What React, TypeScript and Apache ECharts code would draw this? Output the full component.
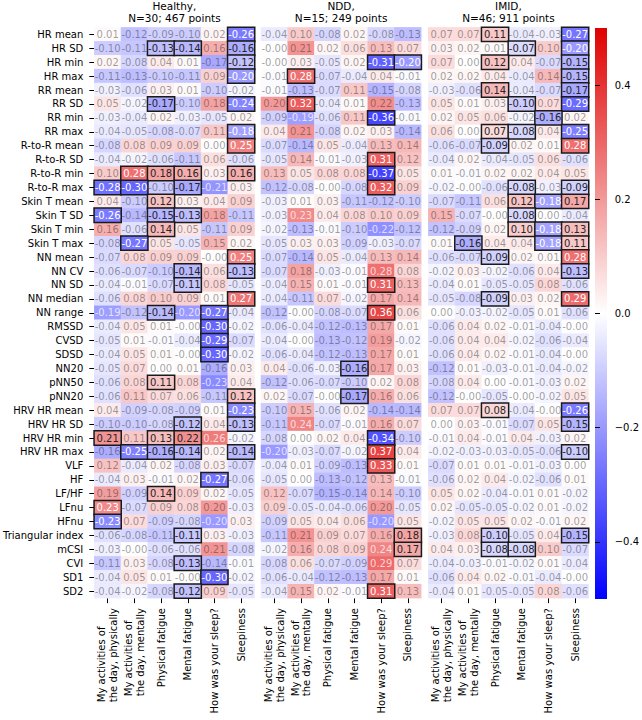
import React, { useEffect, useRef } from "react";
import * as echarts from "echarts";

const FONT = "DejaVu Sans";

const ROWS = [
  "HR mean", "HR SD", "HR min", "HR max", "RR mean", "RR SD", "RR min", "RR max",
  "R-to-R mean", "R-to-R SD", "R-to-R min", "R-to-R max",
  "Skin T mean", "Skin T SD", "Skin T min", "Skin T max",
  "NN mean", "NN CV", "NN SD", "NN median", "NN range",
  "RMSSD", "CVSD", "SDSD", "NN20", "pNN50", "pNN20",
  "HRV HR mean", "HRV HR SD", "HRV HR min", "HRV HR max",
  "VLF", "HF", "LF/HF", "LFnu", "HFnu",
  "Triangular index", "mCSI", "CVI", "SD1", "SD2",
];

const COLS = [
  "My activities of\nthe day, physically",
  "My activities of\nthe day, mentally",
  "Physical fatigue",
  "Mental fatigue",
  "How was your sleep?",
  "Sleepiness",
];

const PANEL_TITLES = ["Healthy,\nN=30; 467 points", "NDD,\nN=15; 249 points", "IMID,\nN=46; 911 points"];

// -0.001 stands for a value printed as "-0.00"
const HEALTHY = [
  [0.01, -0.12, -0.09, -0.10, 0.02, -0.26],
  [-0.10, -0.11, -0.13, -0.14, 0.16, -0.16],
  [0.02, -0.08, 0.04, 0.01, -0.17, -0.12],
  [-0.11, -0.13, -0.10, -0.11, 0.09, -0.20],
  [-0.03, -0.06, 0.03, 0.01, -0.10, -0.02],
  [0.05, -0.02, -0.17, -0.10, 0.18, -0.24],
  [-0.03, -0.04, 0.02, -0.03, -0.05, 0.02],
  [-0.04, -0.05, -0.08, -0.07, 0.11, -0.18],
  [-0.08, 0.08, 0.09, 0.09, 0, 0.25],
  [-0.04, -0.02, -0.06, -0.11, 0.06, -0.06],
  [0.10, 0.28, 0.18, 0.16, 0.03, 0.16],
  [-0.28, -0.30, -0.10, -0.17, -0.21, 0.03],
  [0.04, -0.10, 0.12, 0.03, 0.04, 0.09],
  [-0.26, -0.14, -0.15, -0.13, 0.18, -0.11],
  [0.16, -0.06, 0.14, 0.05, -0.11, 0.09],
  [-0.08, -0.27, 0.05, -0.05, 0.15, 0.02],
  [-0.07, 0.08, 0.09, 0.09, -0.001, 0.25],
  [-0.06, -0.07, -0.10, -0.14, 0.06, -0.13],
  [-0.04, -0.01, -0.07, -0.11, 0.08, -0.05],
  [-0.06, 0.08, 0.10, 0.09, 0.01, 0.27],
  [-0.19, -0.12, -0.14, -0.20, -0.27, -0.04],
  [-0.04, 0.05, 0.01, -0.001, -0.30, -0.02],
  [-0.05, 0.01, -0.01, -0.04, -0.29, -0.07],
  [-0.04, 0.05, 0.01, -0.001, -0.30, -0.02],
  [-0.05, 0.07, 0, 0.01, -0.16, 0.03],
  [-0.06, 0.08, 0.11, 0.08, -0.23, 0.04],
  [-0.06, 0.11, 0.07, 0.06, -0.11, 0.12],
  [0.04, -0.09, -0.08, -0.09, 0.01, -0.23],
  [-0.10, -0.10, -0.08, -0.12, 0.04, -0.13],
  [0.21, 0.11, 0.13, 0.22, 0.26, -0.02],
  [-0.16, -0.25, -0.16, -0.14, 0.02, -0.14],
  [0.12, -0.04, 0.02, -0.08, 0.03, -0.07],
  [-0.04, 0.03, -0.01, 0.02, -0.27, -0.06],
  [0.19, -0.09, 0.14, 0.09, 0.02, -0.05],
  [0.23, -0.07, 0.09, 0.08, 0.20, -0.03],
  [-0.23, 0.07, -0.09, -0.08, -0.20, 0.03],
  [-0.06, -0.08, -0.11, -0.11, 0.03, -0.03],
  [-0.03, -0.001, -0.06, -0.06, 0.21, -0.08],
  [-0.11, 0.03, -0.08, -0.13, -0.14, -0.01],
  [-0.04, 0.05, 0.01, -0.001, -0.30, -0.02],
  [-0.04, -0.02, -0.08, -0.12, 0.09, -0.05],
];
const HEALTHY_SIG = [
  "000001", "001101", "000001", "000001", "000000", "001001", "000000", "000001",
  "000001", "000000", "011101", "110100",
  "001000", "101100", "001000", "010000",
  "000001", "000101", "000100", "000001", "001010",
  "000010", "000010", "000010", "000000", "001000", "000001",
  "000001", "000101", "101100", "011101",
  "000000", "000010", "001000", "100000", "100000",
  "000100", "000000", "000100", "000010", "000100",
];

const NDD = [
  [-0.04, 0.10, -0.08, 0.02, -0.08, -0.13],
  [-0.001, 0.21, 0.02, 0.06, 0.13, 0.07],
  [-0.001, 0.03, -0.05, 0.02, -0.31, -0.20],
  [-0.01, 0.28, -0.07, -0.04, 0.04, -0.01],
  [-0.01, -0.13, -0.07, 0.11, -0.15, -0.08],
  [0.20, 0.32, -0.04, 0.01, 0.22, -0.13],
  [-0.09, -0.19, -0.06, 0.11, -0.36, -0.01],
  [0.04, 0.21, -0.08, 0.02, 0.03, -0.14],
  [-0.07, -0.14, 0.05, -0.04, 0.13, 0.14],
  [-0.05, 0.14, -0.01, -0.03, 0.31, 0.12],
  [0.13, 0.05, 0.08, 0.08, -0.37, 0.05],
  [-0.12, -0.08, -0.001, -0.08, 0.32, 0.09],
  [-0.03, 0.01, 0.03, -0.11, -0.12, -0.10],
  [-0.03, 0.23, 0.04, 0.08, 0.10, 0.09],
  [-0.02, -0.13, -0.01, -0.10, -0.22, -0.12],
  [-0.05, 0.03, 0.03, -0.09, -0.03, -0.07],
  [-0.07, -0.14, 0.05, -0.04, 0.13, 0.14],
  [-0.07, 0.18, -0.03, -0.01, 0.28, 0.08],
  [-0.04, 0.15, 0.01, -0.01, 0.31, 0.13],
  [-0.04, -0.11, 0.07, -0.02, 0.17, 0.14],
  [-0.12, -0.001, -0.08, -0.07, 0.36, 0.06],
  [-0.06, -0.04, -0.12, -0.13, 0.17, 0.01],
  [-0.04, -0.001, -0.13, -0.12, 0.19, -0.02],
  [-0.06, -0.04, -0.12, -0.13, 0.17, 0.01],
  [0.04, -0.06, -0.03, -0.16, 0.17, 0.03],
  [-0.12, -0.06, -0.07, -0.10, 0.02, 0.08],
  [0.02, -0.07, -0.001, -0.17, 0.16, 0.06],
  [-0.10, 0.15, -0.06, 0.02, -0.14, -0.14],
  [-0.11, 0.24, -0.07, -0.01, 0.16, 0.07],
  [-0.08, 0, 0.02, 0.04, -0.34, -0.10],
  [-0.20, -0.03, -0.07, -0.02, 0.37, 0.04],
  [-0.04, 0.01, -0.09, -0.13, 0.33, 0.01],
  [-0.05, 0, -0.13, -0.12, 0.13, -0.01],
  [0.12, -0.07, -0.15, -0.14, 0.14, -0.10],
  [0.09, -0.05, -0.04, -0.06, 0.20, -0.05],
  [-0.09, 0.05, 0.04, 0.06, -0.20, 0.05],
  [-0.11, 0.21, 0.09, 0.07, 0.16, 0.18],
  [-0.02, 0.16, 0.08, 0.09, 0.24, 0.17],
  [-0.08, 0.06, -0.07, -0.09, 0.29, 0.07],
  [-0.06, -0.04, -0.12, -0.13, 0.17, 0.01],
  [-0.04, 0.15, 0.02, -0.01, 0.31, 0.13],
];
const NDD_SIG = [
  "000000", "000000", "000011", "010000", "000000", "010000", "000010", "000000",
  "000000", "000010", "000010", "000010",
  "000000", "000000", "000000", "000000",
  "000000", "000000", "000010", "000000", "000010",
  "000000", "000000", "000000", "000100", "000000", "000100",
  "000000", "000000", "000010", "000010",
  "000010", "000000", "000000", "000000", "000000",
  "000001", "000001", "000000", "000000", "000010",
];

const IMID = [
  [0.07, 0.07, 0.11, -0.04, -0.03, -0.27],
  [0.03, 0.02, 0.01, -0.07, 0.10, -0.20],
  [0.07, 0, 0.12, 0.04, -0.07, -0.15],
  [0.02, 0.02, 0.04, -0.04, 0.14, -0.15],
  [-0.03, -0.06, 0.14, -0.04, -0.07, -0.17],
  [0.05, 0.01, 0.03, -0.10, 0.07, -0.29],
  [0.02, 0.05, 0.06, -0.02, -0.16, 0.02],
  [0.06, 0, 0.07, -0.08, 0.04, -0.25],
  [-0.06, -0.07, -0.09, 0.02, 0.01, 0.28],
  [-0.04, 0.02, -0.04, -0.05, 0.06, -0.06],
  [0.01, -0.01, 0.02, 0.02, 0.04, 0.05],
  [-0.02, -0.001, -0.06, -0.08, -0.03, -0.09],
  [-0.07, -0.11, 0.06, 0.12, -0.18, 0.17],
  [0.15, -0.07, -0.001, -0.08, 0, -0.04],
  [-0.12, -0.09, 0.02, 0.10, -0.18, 0.13],
  [0.01, -0.16, 0.04, 0.04, -0.18, 0.11],
  [-0.06, -0.07, -0.09, 0.02, 0.01, 0.28],
  [-0.02, 0.03, -0.02, -0.06, 0.04, -0.13],
  [-0.04, 0.01, -0.05, -0.05, 0.08, -0.06],
  [-0.05, -0.08, -0.09, 0.03, 0.02, 0.29],
  [0, -0.03, -0.02, -0.05, 0.01, -0.06],
  [-0.06, 0.04, 0.02, -0.01, -0.04, -0.001],
  [-0.06, 0.04, 0.04, -0.02, -0.06, -0.04],
  [-0.06, 0.04, 0.02, -0.01, -0.04, -0.001],
  [-0.12, 0.01, -0.03, -0.01, -0.04, -0.02],
  [-0.08, 0.04, 0, -0.01, -0.03, 0.02],
  [-0.12, -0.001, -0.05, -0.001, -0.02, 0.05],
  [0.07, 0.07, 0.08, -0.04, -0.001, -0.26],
  [0, 0.03, -0.01, -0.07, 0.05, -0.15],
  [-0.01, 0.04, -0.01, 0.04, -0.03, 0.02],
  [-0.02, -0.03, -0.03, -0.05, -0.06, -0.10],
  [-0.07, 0.01, 0.01, -0.01, -0.03, 0],
  [-0.06, 0.02, 0.04, -0.02, -0.06, 0.01],
  [0.05, 0.02, -0.04, -0.01, 0.01, -0.02],
  [0.02, -0.05, -0.05, -0.02, 0.01, -0.02],
  [-0.02, 0.05, 0.05, 0.02, -0.01, 0.02],
  [-0.03, 0.08, -0.10, -0.05, 0.04, -0.15],
  [0.04, 0.03, -0.08, -0.08, 0.10, -0.07],
  [-0.04, -0.03, -0.01, -0.02, 0.01, -0.04],
  [-0.06, 0.04, 0.02, -0.01, -0.04, -0.001],
  [-0.04, 0.01, -0.05, -0.05, 0.08, -0.06],
];
const IMID_SIG = [
  "001001", "000101", "001001", "000001", "001001", "000101", "000010", "001101",
  "001001", "000000", "000000", "000101",
  "000111", "000100", "000111", "010011",
  "001001", "000001", "000000", "001001", "000000",
  "000000", "000000", "000000", "000000", "000000", "000000",
  "001001", "000001", "000000", "000001",
  "000000", "000000", "000000", "000000", "000000",
  "001001", "001100", "000000", "000000", "000000",
];

const CBAR_MIN = -0.5;
const CBAR_MAX = 0.5;
const CBAR_TICK_MIN = -0.4;
const CBAR_TICK_MAX = 0.4;
const CBAR_STEP = 0.2;

const PANELS = [
  { vals: HEALTHY, sig: HEALTHY_SIG },
  { vals: NDD, sig: NDD_SIG },
  { vals: IMID, sig: IMID_SIG },
];

// layout
const CELL_W = 26.7;
const CELL_H = 13.92;
const GRID_TOP = 27.4;
const GRID_LEFTS = [94.3, 261.0, 428.3];
const CB_LEFT = 595;
const CB_TOP = 28;
const CB_W = 12;
const CB_H = 571;
const RED = "#e00000";
const BLUE = "#0000ff";

function buildData(vals: number[][], sig: string[]) {
  const normal: any[] = [];
  const boxed: any[] = [];
  vals.forEach((row, r) =>
    row.forEach((v, c) => {
      const s = sig[r][c] === "1";
      const dark = v >= 0.23 || v <= -0.18;
      const color = s
        ? dark ? "#ffffff" : "#262626"
        : dark ? "rgba(255,255,255,0.72)" : "rgba(38,38,38,0.45)";
      const item: any = { value: [c, r, v], label: { color } };
      if (s) item.itemStyle = { borderColor: "#1a1a1a", borderWidth: 1.5 };
      (s ? boxed : normal).push(item);
    })
  );
  return normal.concat(boxed);
}

export default function App() {
  const ref = useRef<HTMLDivElement>(null);

  useEffect(() => {
    document.body.style.margin = "0";
    const chart = echarts.init(ref.current!, null, { renderer: "svg" });
    const gridW = COLS.length * CELL_W;
    const gridH = ROWS.length * CELL_H;

    const tickStyle = { color: "#000", width: 1 };

    const option: any = {
      animation: false,
      textStyle: { fontFamily: FONT },
      grid: [
        ...GRID_LEFTS.map((l) => ({ left: l, top: GRID_TOP, width: gridW, height: gridH })),
        {
          left: CB_LEFT,
          top: CB_TOP + CB_H * ((CBAR_MAX - CBAR_TICK_MAX) / (CBAR_MAX - CBAR_MIN)),
          width: CB_W,
          height: CB_H * ((CBAR_TICK_MAX - CBAR_TICK_MIN) / (CBAR_MAX - CBAR_MIN)),
        },
      ],
      xAxis: [
        ...GRID_LEFTS.map((_, k) => ({
          type: "category",
          gridIndex: k,
          data: COLS,
          position: "bottom",
          axisLine: { show: false },
          axisTick: { show: true, alignWithLabel: true, length: 5, interval: 0, lineStyle: tickStyle },
          axisLabel: { show: false },
          splitLine: { show: false },
        })),
        { type: "value", gridIndex: 3, show: false },
      ],
      yAxis: [
        ...GRID_LEFTS.map((_, k) => ({
          type: "category",
          gridIndex: k,
          data: ROWS,
          inverse: true,
          axisLine: { show: false },
          axisTick: { show: k === 0, alignWithLabel: true, length: 5, interval: 0, lineStyle: tickStyle },
          axisLabel: {
            show: k === 0,
            interval: 0,
            fontSize: 10,
            fontFamily: FONT,
            color: "#000",
            margin: 11,
          },
          splitLine: { show: false },
        })),
        {
          type: "value",
          gridIndex: 3,
          min: CBAR_TICK_MIN,
          max: CBAR_TICK_MAX,
          interval: CBAR_STEP,
          position: "right",
          axisLine: { show: false },
          axisTick: { show: true, length: 5, lineStyle: tickStyle },
          splitLine: { show: false },
          axisLabel: {
            fontSize: 10,
            fontFamily: FONT,
            color: "#000",
            margin: 10,
            formatter: (v: number) =>
              Math.abs(v) < 1e-9 ? "0.0" : v < 0 ? "\u2212" + Math.abs(v).toFixed(1) : v.toFixed(1),
          },
        },
      ],
      visualMap: {
        type: "continuous",
        show: false,
        min: CBAR_MIN,
        max: CBAR_MAX,
        dimension: 2,
        seriesIndex: [0, 1, 2],
        inRange: { color: [BLUE, "#ffffff", RED] },
      },
      series: PANELS.map((p, k) => ({
        type: "heatmap",
        xAxisIndex: k,
        yAxisIndex: k,
        silent: true,
        emphasis: { disabled: true },
        progressive: 0,
        label: {
          show: true,
          fontSize: 10,
          fontFamily: FONT,
          formatter: (pr: any) => Number(pr.value[2]).toFixed(2),
        },
        itemStyle: { borderWidth: 0 },
        data: buildData(p.vals, p.sig),
      })),
    };
    chart.setOption(option);

    // graphics: titles, rotated x labels, colorbar
    const canvas = document.createElement("canvas");
    const ctx = canvas.getContext("2d")!;
    ctx.font = `10px "${FONT}"`;
    const measure = (s: string) => ctx.measureText(s).width;

    const graphics: any[] = [];
    const labelTop = GRID_TOP + gridH + 10;
    const lineH = 11.5;

    GRID_LEFTS.forEach((l, k) => {
      const cx = l + gridW / 2;
      graphics.push({
        type: "text",
        x: cx,
        y: 0,
        silent: true,
        style: {
          text: PANEL_TITLES[k],
          fontSize: 10.5,
          fontFamily: FONT,
          fill: "#000",
          align: "center",
          verticalAlign: "top",
          lineHeight: 12,
        },
      });
      COLS.forEach((name, i) => {
        let x = chart.convertToPixel({ xAxisIndex: k } as any, i) as any;
        if (typeof x !== "number" || isNaN(x)) x = l + (i + 0.5) * CELL_W;
        const lines = name.split("\n");
        const maxW = Math.max(...lines.map(measure));
        const bottom = labelTop + maxW;
        lines.forEach((line, j) => {
          const off = (j - (lines.length - 1) / 2) * lineH;
          graphics.push({
            type: "text",
            x: x + off,
            y: bottom,
            rotation: Math.PI / 2,
            silent: true,
            style: {
              text: line,
              fontSize: 10,
              fontFamily: FONT,
              fill: "#000",
              align: "left",
              verticalAlign: "middle",
            },
          });
        });
      });
    });

    graphics.push({
      type: "rect",
      silent: true,
      shape: { x: CB_LEFT, y: CB_TOP, width: CB_W, height: CB_H },
      style: {
        fill: new echarts.graphic.LinearGradient(0, 0, 0, 1, [
          { offset: 0, color: RED },
          { offset: 0.5, color: "#ffffff" },
          { offset: 1, color: BLUE },
        ]),
      },
    });

    chart.setOption({ graphic: graphics });

    return () => chart.dispose();
  }, []);

  return <div ref={ref} style={{ width: 642, height: 720 }} />;
}
